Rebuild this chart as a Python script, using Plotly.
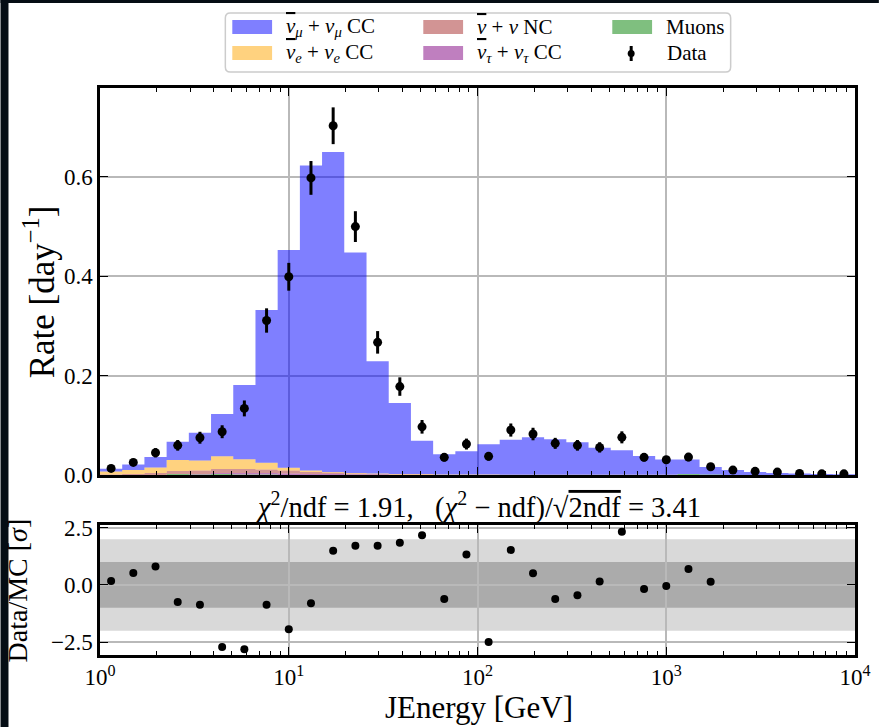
import numpy as np
import plotly.graph_objects as go

# ---------------- data ----------------
bin_edges = [1.0, 1.3112, 1.7192, 2.2539, 2.9554, 3.8754, 5.0813, 6.6628, 8.7362,
             11.455, 15.013, 19.684, 25.823, 33.859, 44.396, 58.211, 76.326, 100.0,
             131.12, 171.92, 225.39, 295.54, 387.54, 508.13, 666.28, 873.62,
             1145.5, 1501.3, 1968.4, 2582.3, 3385.9, 4439.6, 5821.1, 7632.6, 10000.0]

numu_cc = [0.0058, 0.011, 0.021, 0.037, 0.056, 0.0855, 0.1495, 0.3074, 0.4383, 0.614,
           0.644, 0.444, 0.226, 0.143, 0.067, 0.041, 0.047, 0.061, 0.0705, 0.0755,
           0.0715, 0.0655, 0.0545, 0.0495, 0.0375, 0.0305, 0.029, 0.0152, 0.010, 0.006,
           0.004, 0.003, 0.002, 0.0015]
nue_cc = [0.006, 0.008, 0.011, 0.022, 0.020, 0.0255, 0.0195, 0.0136, 0.0057, 0.003,
          0.001, 0.001, 0.001, 0.001, 0.001, 0.001, 0.001, 0.001, 0.0005, 0.0005,
          0.0005, 0.0005, 0.0005, 0.0005, 0.0005, 0.0005, 0.0, 0.0, 0.0, 0.0,
          0.0, 0.0, 0.0, 0.0]
nu_nc = [0.001, 0.002, 0.004, 0.006, 0.007, 0.008, 0.008, 0.007, 0.006, 0.004,
         0.003, 0.002, 0.001, 0.001, 0.001, 0.0, 0.0, 0.0, 0.0, 0.0,
         0.0, 0.0, 0.0, 0.0, 0.0, 0.0, 0.0, 0.0, 0.0, 0.0,
         0.0, 0.0, 0.0, 0.0]
nutau_cc = [0.0, 0.0, 0.0, 0.0, 0.001, 0.002, 0.003, 0.003, 0.003, 0.002,
            0.002, 0.001, 0.001, 0.0, 0.0, 0.0, 0.0, 0.0, 0.0, 0.0,
            0.0, 0.0, 0.0, 0.0, 0.0, 0.0, 0.0, 0.0, 0.0, 0.0,
            0.0, 0.0, 0.0, 0.0]
muons = [0.0, 0.0, 0.0, 0.002, 0.001, 0.002, 0.001, 0.001, 0.0, 0.0,
         0.0, 0.0, 0.0, 0.0, 0.0, 0.0, 0.0, 0.0, 0.0, 0.0,
         0.0, 0.0, 0.0, 0.0, 0.0, 0.0, 0.002, 0.001, 0.0, 0.0,
         0.0, 0.0, 0.0, 0.0]

data_rate = [0.0133, 0.0254, 0.0448, 0.0597, 0.075, 0.0871, 0.134, 0.311, 0.399, 0.598,
             0.703, 0.500, 0.267, 0.178, 0.097, 0.0355, 0.0623, 0.0375, 0.0905, 0.0825,
             0.0637, 0.0597, 0.0556, 0.0758, 0.0355, 0.0306, 0.036, 0.0165, 0.0099, 0.0073,
             0.0058, 0.0032, 0.0024, 0.0024]
data_err = [0.005, 0.007, 0.0093, 0.0107, 0.012, 0.013, 0.016, 0.0245, 0.028, 0.034,
            0.037, 0.031, 0.0227, 0.0186, 0.0137, 0.0083, 0.011, 0.0085, 0.0132, 0.0126,
            0.0111, 0.0107, 0.0104, 0.0121, 0.0083, 0.0077, 0.0084, 0.0057, 0.0044, 0.0038,
            0.0034, 0.0025, 0.0022, 0.0022]

residuals = [0.17, 0.52, 0.81, -0.74, -0.86, -2.71, -2.81, -0.86, -1.93, -0.80,
             1.49, 1.71, 1.71, 1.84, 2.17, -0.61, 1.33, -2.49, 1.53, 0.51,
             -0.61, -0.45, 0.15, 2.33, -0.18, -0.04, 0.70, 0.14]

x_major = [1, 10, 100, 1000, 10000]
x_major_text = ["10<sup>0</sup>", "10<sup>1</sup>", "10<sup>2</sup>", "10<sup>3</sup>", "10<sup>4</sup>"]
x_minor = [d * m for d in (1, 10, 100, 1000) for m in range(2, 10)]
y_top_ticks = [0.0, 0.2, 0.4, 0.6]
y_top_text = ["0.0", "0.2", "0.4", "0.6"]
y_res_ticks = [-2.5, 0.0, 2.5]
y_res_text = ["\u22122.5", "0.0", "2.5"]

chi2_text = ("<i>\u03c7</i><sup>2</sup>/ndf = 1.91,\u2002 (<i>\u03c7</i><sup>2</sup> \u2212 ndf)/\u221a"
             "<span style='text-decoration:overline'>2ndf</span> = 3.41")

NUBAR = "<span style='text-decoration:overline;font-style:italic'>\u03bd</span>"
NU = "<i>\u03bd</i>"

# ---------------- layout geometry ----------------
W, H = 883, 727
L, R, T, B = 100, 24, 88, 72
PW, PH = W - L - R, H - T - B


def px(x):
    return (x - L) / PW


def py(y):
    return (H - B - y) / PH


FONT = "Liberation Serif"
centers = [float(np.sqrt(bin_edges[i] * bin_edges[i + 1])) for i in range(len(bin_edges) - 1)]

fig = go.Figure()

layers = [
    ("Muons", muons, "rgba(0,128,0,0.5)"),
    ("nutau", nutau_cc, "rgba(128,0,128,0.5)"),
    ("NC", nu_nc, "rgba(165,42,42,0.5)"),
    ("nue", nue_cc, "rgba(255,165,0,0.5)"),
    ("numu", numu_cc, "rgba(0,0,255,0.5)"),
]
cum = np.zeros(len(centers))
for i, (name, vals, col) in enumerate(layers):
    cum = cum + np.array(vals)
    yy = list(cum) + [cum[-1]]
    fig.add_trace(go.Scatter(
        x=bin_edges, y=yy, mode="lines", line=dict(shape="hv", width=0, color=col),
        fill="tozeroy" if i == 0 else "tonexty", fillcolor=col, name=name,
        showlegend=False, hoverinfo="skip", xaxis="x", yaxis="y"))

fig.add_trace(go.Scatter(
    x=centers, y=data_rate, mode="markers", name="Data",
    marker=dict(color="black", size=9),
    error_y=dict(type="data", array=data_err, thickness=3, width=0, color="black"),
    showlegend=False, xaxis="x", yaxis="y"))

fig.add_trace(go.Scatter(
    x=centers[:len(residuals)], y=residuals, mode="markers",
    marker=dict(color="black", size=8), showlegend=False, xaxis="x2", yaxis="y2"))

axis_common = dict(showline=True, linewidth=2.5, linecolor="black", mirror="ticks",
                   ticks="inside", tickcolor="black", tickwidth=1.3,
                   showgrid=True, gridcolor="#b9b9b9", gridwidth=1.5, zeroline=False,
                   tickfont=dict(family=FONT, size=23, color="black"))

xcommon = dict(axis_common, type="log", range=[0, 4], tickmode="array", tickvals=x_major,
               ticklen=8,
               minor=dict(tickmode="array", tickvals=x_minor, ticks="inside", ticklen=4,
                          tickwidth=1.2, tickcolor="black", showgrid=False))

top_dom = [py(475), 1.0]
bot_dom = [0.0, py(525)]

fig.update_layout(
    width=W, height=H, margin=dict(l=L, r=R, t=T, b=B),
    paper_bgcolor="white", plot_bgcolor="white",
    xaxis=dict(xcommon, anchor="y", showticklabels=False),
    yaxis=dict(axis_common, domain=top_dom, range=[0, 0.779], tickmode="array",
               tickvals=y_top_ticks, ticktext=y_top_text, ticklen=8),
    xaxis2=dict(xcommon, anchor="y2", ticktext=x_major_text, matches="x"),
    yaxis2=dict(axis_common, domain=bot_dom, range=[-3.06, 2.62], tickmode="array",
                tickvals=y_res_ticks, ticktext=y_res_text, ticklen=8),
    showlegend=False,
)

shapes = []
# sigma bands
shapes.append(dict(type="rect", xref="x2 domain", yref="y2", x0=0, x1=1, y0=-2, y1=2,
                   fillcolor="#d9d9d9", line=dict(width=0), layer="below"))
shapes.append(dict(type="rect", xref="x2 domain", yref="y2", x0=0, x1=1, y0=-1, y1=1,
                   fillcolor="#ababab", line=dict(width=0), layer="below"))
# dark screenshot frame
shapes.append(dict(type="rect", xref="paper", yref="paper", x0=px(0), x1=px(8), y0=py(H), y1=py(0),
                   fillcolor="#050d14", line=dict(width=0), layer="above"))
shapes.append(dict(type="rect", xref="paper", yref="paper", x0=px(0), x1=px(W), y0=py(3), y1=py(0),
                   fillcolor="#050d14", line=dict(width=0), layer="above"))

# legend box (rounded)
bx0, bx1, by0, by1, rr = 226, 734, 13, 72, 5
path = (f"M {px(bx0+rr)},{py(by0)} L {px(bx1-rr)},{py(by0)} Q {px(bx1)},{py(by0)} {px(bx1)},{py(by0+rr)} "
        f"L {px(bx1)},{py(by1-rr)} Q {px(bx1)},{py(by1)} {px(bx1-rr)},{py(by1)} "
        f"L {px(bx0+rr)},{py(by1)} Q {px(bx0)},{py(by1)} {px(bx0)},{py(by1-rr)} "
        f"L {px(bx0)},{py(by0+rr)} Q {px(bx0)},{py(by0)} {px(bx0+rr)},{py(by0)} Z")
shapes.append(dict(type="path", xref="paper", yref="paper", path=path, fillcolor="white",
                   line=dict(color="#cccccc", width=1.5)))

legend_entries = [
    (f"{NUBAR}<sub><i>\u03bc</i></sub> + {NU}<sub><i>\u03bc</i></sub> CC", "rgba(0,0,255,0.5)", 233, 27),
    (f"{NUBAR}<sub><i>e</i></sub> + {NU}<sub><i>e</i></sub> CC", "rgba(255,165,0,0.5)", 233, 53),
    (f"{NUBAR} + {NU} NC", "rgba(165,42,42,0.5)", 425, 27),
    (f"{NUBAR}<sub><i>\u03c4</i></sub> + {NU}<sub><i>\u03c4</i></sub> CC", "rgba(128,0,128,0.5)", 425, 53),
    ("Muons", "rgba(0,128,0,0.5)", 615, 27),
]
annotations = []
for text, col, x0, yc in legend_entries:
    shapes.append(dict(type="rect", xref="paper", yref="paper", x0=px(x0), x1=px(x0 + 40),
                       y0=py(yc + 7), y1=py(yc - 7), fillcolor=col, line=dict(width=0)))
    annotations.append(dict(xref="paper", yref="paper", x=px(x0 + 52), y=py(yc), text=text,
                            showarrow=False, xanchor="left", yanchor="middle",
                            font=dict(family=FONT, size=21, color="black")))
# data legend marker
shapes.append(dict(type="line", xref="paper", yref="paper", x0=px(634), x1=px(634), y0=py(61), y1=py(46),
                   line=dict(color="black", width=3)))
shapes.append(dict(type="circle", xref="paper", yref="paper", x0=px(630.5), x1=px(637.5), y0=py(57), y1=py(50),
                   fillcolor="black", line=dict(width=0)))
annotations.append(dict(xref="paper", yref="paper", x=px(668), y=py(53), text="Data",
                        showarrow=False, xanchor="left", yanchor="middle",
                        font=dict(family=FONT, size=21, color="black")))

# titles
annotations.append(dict(xref="paper", yref="paper", x=px(479.5), y=py(505), text=chi2_text,
                        showarrow=False, xanchor="center", yanchor="middle",
                        font=dict(family=FONT, size=28.5, color="black")))
annotations.append(dict(xref="paper", yref="paper", x=px(481), y=py(707), text="JEnergy [GeV]",
                        showarrow=False, xanchor="center", yanchor="middle",
                        font=dict(family=FONT, size=31, color="black")))
annotations.append(dict(xref="paper", yref="paper", x=px(39), y=py(292), text="Rate [day<sup>\u22121</sup>]",
                        showarrow=False, xanchor="center", yanchor="middle", textangle=-90,
                        font=dict(family=FONT, size=35, color="black")))
annotations.append(dict(xref="paper", yref="paper", x=px(17), y=py(590), text="Data/MC [<i>\u03c3</i>]",
                        showarrow=False, xanchor="center", yanchor="middle", textangle=-90,
                        font=dict(family=FONT, size=28, color="black")))

fig.update_layout(shapes=shapes, annotations=annotations)
fig.write_html("out.html")
